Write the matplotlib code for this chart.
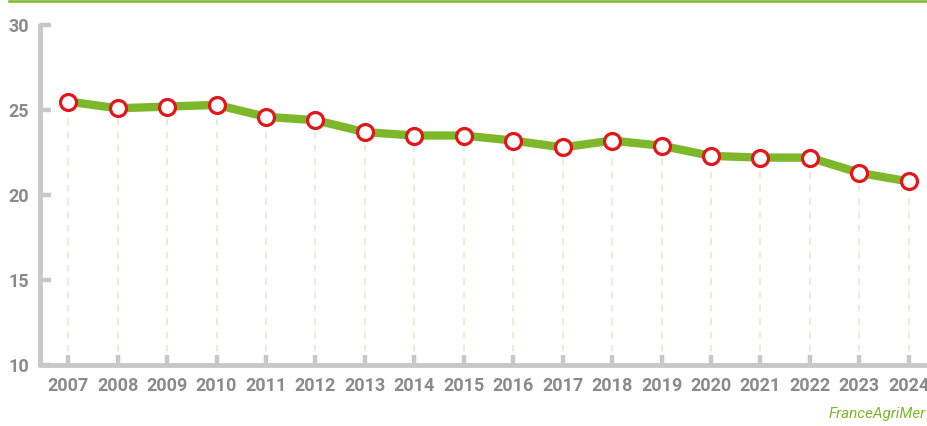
import matplotlib
matplotlib.use("Agg")
import matplotlib.pyplot as plt

years = list(range(2007, 2025))
values = [25.5, 25.1, 25.2, 25.3, 24.6, 24.4, 23.7, 23.5, 23.5, 23.2,
          22.8, 23.2, 22.9, 22.3, 22.2, 22.2, 21.3, 20.8]
y_ticks = [10, 15, 20, 25, 30]

GREEN = "#7cb82a"
RED = "#e2161b"
GREY = "#c8c8c8"
LABEL = "#8a8a8a"

plt.rcParams['font.family'] = ['Roboto', 'DejaVu Sans']

fig = plt.figure(figsize=(9.28, 4.26), dpi=100)
ax = fig.add_axes([0.0431, 0.1432, 0.9548, 0.7981])

# dashed drop lines from each point down to the axis
for x, v in zip(years, values):
    ax.plot([x, x], [10, v], color="#e6ebcc", lw=1.2, ls=(0, (4, 4)), zorder=1)

ax.plot(years, values, color=GREEN, lw=6, solid_capstyle="round",
        solid_joinstyle="round", zorder=2)
ax.plot(years, values, ls="none", marker="o", ms=11.5, mfc="white",
        mec=RED, mew=2.3, zorder=3)

ax.set_xlim(2007 - 0.57, 2024 + 0.35)
ax.set_ylim(10, 30)
ax.set_xticks(years)
ax.set_yticks(y_ticks)

for side in ("top", "right"):
    ax.spines[side].set_visible(False)
for side in ("left", "bottom"):
    ax.spines[side].set_color(GREY)
    ax.spines[side].set_linewidth(3.5)
    ax.spines[side].set_capstyle("round")

ax.tick_params(axis="x", direction="in", length=7, width=3.2, color=GREY,
               pad=9, labelsize=13, labelcolor=LABEL)
ax.tick_params(axis="y", direction="in", length=8, width=3.2, color=GREY,
               pad=8, labelsize=13, labelcolor=LABEL)
for lab in ax.get_xticklabels() + ax.get_yticklabels():
    lab.set_fontweight("bold")

# thin green rule at the very top
fig.add_artist(plt.Line2D([0.01, 1.0], [0.997, 0.997], color=GREEN, lw=1.8,
                          transform=fig.transFigure))

fig.text(0.997, 0.012, "FranceAgriMer", color=GREEN, fontsize=11,
         style="italic", ha="right", va="bottom")

fig.savefig("out.png", dpi=100)
